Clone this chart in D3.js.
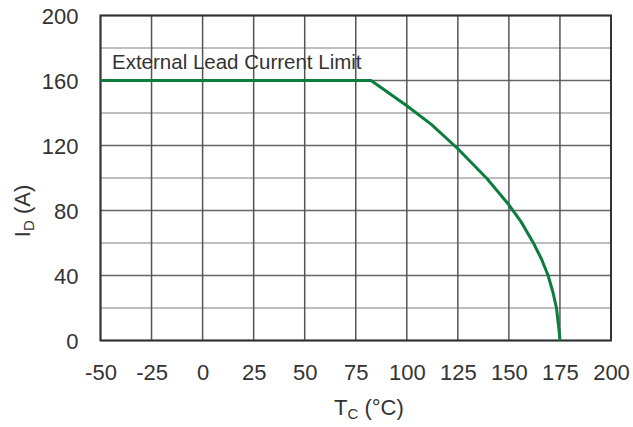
<!DOCTYPE html>
<html><head><meta charset="utf-8">
<script src="https://cdn.jsdelivr.net/npm/d3@7"></script>
<style>
body{margin:0;background:#fff;}
svg text{font-family:Arial,"Liberation Sans",Helvetica,sans-serif;fill:#333;}
</style></head>
<body><svg id="c" width="633" height="427"></svg>
<script>
const tempC = [-50, 82.5, 100, 112, 125, 139, 150, 156, 162, 166, 169.2, 171.5, 173.3, 174.5, 175];
const currentA = [160, 160, 144.5, 133, 118, 100, 83.5, 73, 60, 50, 40, 30, 20, 7, 0];
const xTicks = [-50, -25, 0, 25, 50, 75, 100, 125, 150, 175, 200];
const yTicks = [0, 40, 80, 120, 160, 200];
const yMinor = [20, 60, 100, 140, 180];
const annotation = "External Lead Current Limit";

const svg = d3.select("#c");
const L = 100.5, R = 611, T = 15.5, B = 340.5;
const x = d3.scaleLinear().domain([-50, 200]).range([L, R]);
const y = d3.scaleLinear().domain([0, 200]).range([B, T]);
const fmt = d => String(d);

// minor horizontal grid
svg.append("g").selectAll("line").data(yMinor).join("line")
  .attr("x1", L).attr("x2", R).attr("y1", d => y(d)).attr("y2", d => y(d))
  .attr("stroke", "#a8a8a8").attr("stroke-width", 1.5);
// major horizontal grid
svg.append("g").selectAll("line").data(yTicks).join("line")
  .attr("x1", L).attr("x2", R).attr("y1", d => y(d)).attr("y2", d => y(d))
  .attr("stroke", "#666").attr("stroke-width", 1.5);
// vertical grid
svg.append("g").selectAll("line").data(xTicks).join("line")
  .attr("x1", d => x(d)).attr("x2", d => x(d)).attr("y1", T).attr("y2", B)
  .attr("stroke", "#555").attr("stroke-width", 1.5);
// frame
svg.append("rect").attr("x", L).attr("y", T).attr("width", R - L).attr("height", B - T)
  .attr("fill", "none").attr("stroke", "#333").attr("stroke-width", 2);

// annotation text
svg.append("text").attr("x", 112).attr("y", 69).attr("font-size", 20.5)
  .text(annotation);

// curve
const pts = tempC.map((t, i) => [t, currentA[i]]);
svg.append("path").datum(pts)
  .attr("fill", "none").attr("stroke", "#0b7d3c").attr("stroke-width", 3)
  .attr("stroke-linejoin", "round")
  .attr("d", d3.line().x(d => x(d[0])).y(d => y(d[1])));

// axes labels using d3 axes (no domain/ticks lines)
const xAxis = svg.append("g").attr("transform", `translate(0,${B})`)
  .call(d3.axisBottom(x).tickValues(xTicks).tickSize(0).tickPadding(0).tickFormat(fmt));
xAxis.select(".domain").remove();
xAxis.selectAll("text").attr("font-size", 22).attr("dy", null).attr("y", 39.5)
  .style("font-family", "Arial,'Liberation Sans',sans-serif").attr("fill", "#333");

const yAxis = svg.append("g").attr("transform", `translate(${L},0)`)
  .call(d3.axisLeft(y).tickValues(yTicks).tickSize(0).tickPadding(0).tickFormat(fmt));
yAxis.select(".domain").remove();
yAxis.selectAll("text").attr("font-size", 22).attr("x", -22).attr("dy", "0.36em")
  .style("font-family", "Arial,'Liberation Sans',sans-serif").attr("fill", "#333");

// x title
const xt = svg.append("text").attr("x", 334).attr("y", 415).attr("font-size", 22);
xt.append("tspan").text("T");
xt.append("tspan").attr("font-size", 15).attr("dy", 4).text("C");
xt.append("tspan").attr("dy", -4).text(" (°C)");

// y title
const yt = svg.append("text").attr("transform", "translate(30,211) rotate(-90)")
  .attr("text-anchor", "middle").attr("font-size", 22);
yt.append("tspan").text("I");
yt.append("tspan").attr("font-size", 15).attr("dy", 4).text("D");
yt.append("tspan").attr("dy", -4).text(" (A)");
</script></body></html>
